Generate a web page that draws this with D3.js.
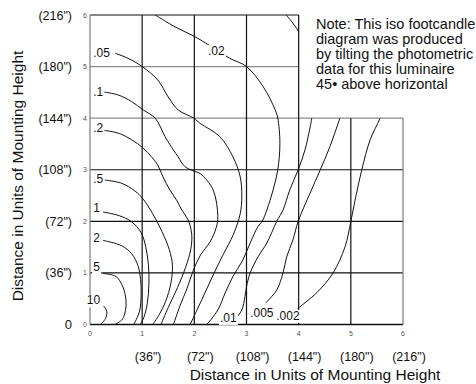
<!DOCTYPE html>
<html><head><meta charset="utf-8">
<script src="https://cdn.jsdelivr.net/npm/d3@7/dist/d3.min.js"></script>
<style>
html,body{margin:0;padding:0;background:#fff;}
svg{display:block;font-family:"Liberation Sans",Arial,Helvetica,sans-serif;}
</style></head>
<body>
<svg id="chart" width="476" height="384"></svg>
<script>
// ---- data (units of mounting height) ----
const unitTicks = [0,1,2,3,4,5,6];
const xInchLabels = ['(36")','(72")','(108")','(144")','(180")','(216")'];
const xInchTicks = [1,2,3,4,5,6];
const yInchLabels = ['(36")','(72")','(108")','(144")','(180")','(216")'];
const yInchTicks = [1,2,3,4,5,6];
const levels = ["10","5","2","1",".5",".2",".1",".05",".02",".01",".005",".002"];

const iso10 = [[0.26,0.36],[0.32,0.26],[0.30,0.12],[0.20,0]];
const iso5 = [[0.25,0.99],[0.50,0.93],[0.63,0.73],[0.69,0.47],[0.68,0.27],[0.62,0.10],[0.48,0]];
const iso2 = [[0.25,1.63],[0.60,1.53],[0.80,1.37],[0.92,1.14],[0.97,0.87],[0.98,0.57],[0.95,0.26],[0.84,0]];
const iso1 = [[0.25,2.18],[0.56,2.11],[0.80,1.99],[0.98,1.78],[1.07,1.50],[1.12,1.15],[1.13,0.80],[1.10,0.42],[1.03,0.13],[0.96,0]];
const iso05 = [[0.28,2.80],[0.60,2.74],[0.86,2.59],[1.02,2.43],[1.20,2.15],[1.38,1.80],[1.52,1.45],[1.58,1.15],[1.55,0.80],[1.45,0.45],[1.32,0.18],[1.20,0]];
const iso02 = [[0.22,3.77],[0.54,3.71],[0.80,3.58],[1.02,3.42],[1.18,3.25],[1.30,3.09],[1.40,2.86],[1.53,2.61],[1.66,2.41],[1.76,2.22],[1.88,2.03],[1.95,1.75],[1.93,1.45],[1.83,1.10],[1.68,0.72],[1.50,0.33],[1.36,0]];
const iso01 = [[0.25,4.51],[0.54,4.45],[0.80,4.32],[1.02,4.16],[1.25,4.00],[1.44,3.64],[1.60,3.38],[1.69,3.25],[1.82,3.06],[2.00,2.97],[2.12,2.92],[2.36,2.61],[2.45,2.10],[2.42,1.88],[2.30,1.60],[2.12,1.35],[1.98,1.05],[1.86,0.70],[1.72,0.35],[1.60,0]];
const iso005 = [[0.48,5.26],[0.73,5.16],[1.00,5.00],[1.30,4.74],[1.50,4.41],[1.69,4.16],[1.99,4.00],[2.11,3.90],[2.49,3.64],[2.74,3.25],[2.88,2.86],[2.91,2.48],[2.88,2.15],[2.75,1.75],[2.55,1.35],[2.38,1.00],[2.22,0.65],[2.06,0.30],[1.92,0]];
const iso002 = [[1.25,6.00],[1.63,5.77],[2.01,5.58],[2.40,5.34],[2.68,5.16],[3.00,5.00],[3.32,4.61],[3.55,4.16],[3.60,4.00],[3.64,3.51],[3.60,3.00],[3.51,2.61],[3.39,2.22],[3.30,2.00],[3.22,1.90],[3.07,1.58],[2.93,1.25],[2.74,0.93],[2.59,0.61],[2.45,0.28],[2.24,0]];
const iso001 = [[3.76,6.00],[3.99,5.69],[4.18,5.15],[4.27,4.55],[4.25,4.00],[4.22,3.83],[4.12,3.38],[3.99,3.00],[3.83,2.61],[3.70,2.22],[3.58,2.00],[3.39,1.58],[3.22,1.31],[3.07,1.00],[3.00,0.73],[2.97,0.54],[2.91,0.28],[2.78,0.10]];
const iso0005 = [[5.00,4.60],[4.79,4.00],[4.60,3.45],[4.41,2.99],[4.22,2.55],[3.99,2.00],[3.89,1.64],[3.77,1.31],[3.70,1.00],[3.58,0.67],[3.37,0.42]];
const iso0002 = [[5.70,4.40],[5.56,4.00],[5.37,3.58],[5.21,3.00],[5.10,2.50],[5.00,2.00],[4.89,1.51],[4.66,1.00],[4.35,0.62],[3.98,0.31]];
const isoLines = [iso10,iso5,iso2,iso1,iso05,iso02,iso01,iso005,iso002,iso001,iso0005,iso0002];

// label anchor points (data units) for each level, same order as levels
const labelX = [-0.06,0.06,0.06,0.06,0.06,0.06,0.06,0.06,2.26,2.49,3.07,3.57];
const labelY = [0.39,1.03,1.60,2.19,2.74,3.73,4.43,5.18,5.22,0.05,0.145,0.09];

const noteLines = ["Note: This iso footcandle","diagram was produced","by tilting the photometric","data for this luminaire","45\u2022 above horizontal"];
const xTitle = "Distance in Units of Mounting Height";
const yTitle = "Distance in Units of Mounting Height";

// ---- drawing ----
const svg = d3.select("#chart");
const x = d3.scaleLinear().domain([0,6]).range([90,403]);
const y = d3.scaleLinear().domain([0,6]).range([324.5,15]);

// region: full width up to 4, narrow (x<=4) above 4
const region = [[0,0],[6,0],[6,4],[4,4],[4,6],[0,6]];
svg.append("clipPath").attr("id","plotclip")
  .append("polygon").attr("points", region.map(p=>[x(p[0]),y(p[1])].join(",")).join(" "));

const grid = svg.append("g").attr("fill","none");
// horizontal grid lines
unitTicks.forEach(t=>{
  const xmax = t<=4 ? 6 : 4;
  grid.append("line")
    .attr("x1",x(0)).attr("x2",x(xmax)).attr("y1",y(t)).attr("y2",y(t))
    .attr("stroke", (t===4||t===5) ? "#8a8a8a" : "#111")
    .attr("stroke-width", t===0 ? 1.4 : 1.2);
});
// vertical grid lines
unitTicks.forEach(t=>{
  const ymax = t<=4 ? 6 : 4;
  grid.append("line")
    .attr("y1",y(0)).attr("y2",y(ymax)).attr("x1",x(t)).attr("x2",x(t))
    .attr("stroke", (t===0||t===6) ? "#7a7a7a" : "#111")
    .attr("stroke-width", 1.2);
});

// contour lines
const line = d3.line().x(d=>x(d[0])).y(d=>y(d[1])).curve(d3.curveCatmullRom.alpha(0.5));
svg.append("g").attr("clip-path","url(#plotclip)")
  .selectAll("path").data(isoLines).join("path")
  .attr("d", line).attr("fill","none").attr("stroke","#111").attr("stroke-width",1);

// level labels with white knock-out
const lab = svg.append("g").attr("font-size",12).attr("fill","#111");
levels.forEach((L,i)=>{
  const t = lab.append("text").attr("x",x(labelX[i])).attr("y",y(labelY[i])).text(L);
  const bb = t.node().getBBox();
  lab.insert("rect","text").attr("x",bb.x-1).attr("y",bb.y+1).attr("width",bb.width+2).attr("height",bb.height-1).attr("fill","#fff");
});

// small unit tick labels
const small = svg.append("g").attr("font-size",7).attr("fill","#555");
unitTicks.forEach(t=>{
  small.append("text").attr("x",x(t)).attr("y",y(0)+11).attr("text-anchor","middle").text(t);
  small.append("text").attr("x",x(0)-5).attr("y",y(t)+2.5).attr("text-anchor","middle").text(t);
});

// inch labels
const inch = svg.append("g").attr("font-size",12.5).attr("fill","#111");
xInchTicks.forEach((t,i)=>{
  inch.append("text").attr("x",x(t)+6).attr("y",y(0)+36).attr("text-anchor","middle").text(xInchLabels[i]);
});
yInchTicks.forEach((t,i)=>{
  inch.append("text").attr("x",x(0)-18).attr("y",y(t)+4.5).attr("text-anchor","end").text(yInchLabels[i]);
});
inch.append("text").attr("x",x(0)-18).attr("y",y(0)+4.5).attr("text-anchor","end").attr("font-size",13).text("0");

// axis titles
svg.append("text").attr("x",315).attr("y",380).attr("text-anchor","middle").attr("font-size",15.5).attr("fill","#111").text(xTitle);
svg.append("text").attr("transform","translate(23,176) rotate(-90)").attr("text-anchor","middle").attr("font-size",15.5).attr("fill","#111").text(yTitle);

// note
const note = svg.append("text").attr("x",316).attr("y",29).attr("font-size",14.5).attr("fill","#111");
noteLines.forEach((s,i)=>{
  note.append("tspan").attr("x",316).attr("y",29+15*i).text(s);
});
</script>
</body></html>
